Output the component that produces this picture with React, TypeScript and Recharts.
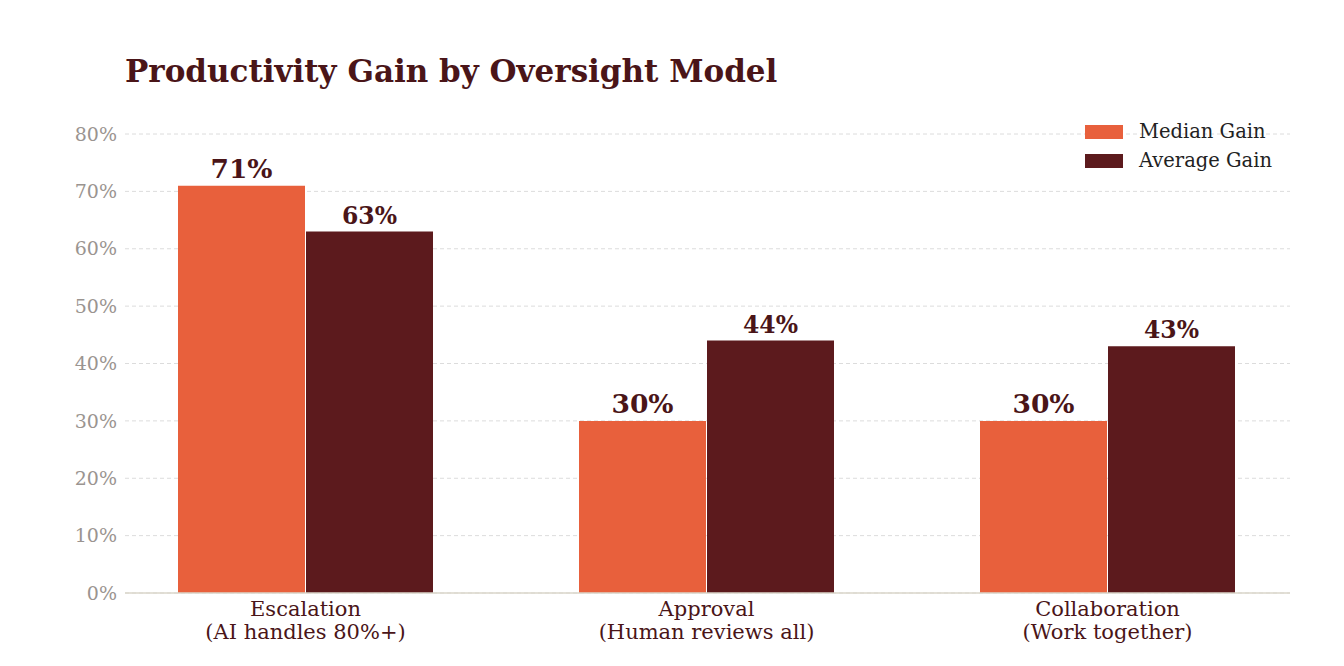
import * as React from 'react'
import { Bar, BarChart, CartesianGrid, LabelList, XAxis, YAxis } from 'recharts'

const categories = ['Escalation', 'Approval', 'Collaboration']
const subtitles = ['(AI handles 80%+)', '(Human reviews all)', '(Work together)']
const medianGain = [71, 30, 30]
const averageGain = [63, 44, 43]
const yTicks = [0, 10, 20, 30, 40, 50, 60, 70, 80]

const FONT = '"DejaVu Serif", serif'
const MEDIAN = '#E8603C'
const AVERAGE = '#5C1A1D'
const INK = '#4A1518'

const data = categories.map((c, i) => ({
  name: c,
  sub: subtitles[i],
  median: medianGain[i],
  average: averageGain[i],
}))

function CategoryTick({ x, y, payload, index }: any) {
  return (
    <g transform={`translate(${x},${y})`}>
      <text textAnchor="middle" fontFamily={FONT} fontSize={21} fill={INK}>
        <tspan x={0} dy={15}>{payload.value}</tspan>
        <tspan x={0} dy={23}>{data[index]?.sub}</tspan>
      </text>
    </g>
  )
}

function LegendBox() {
  const items = [
    { label: 'Median Gain', color: MEDIAN },
    { label: 'Average Gain', color: AVERAGE },
  ]
  return (
    <div style={{ position: 'absolute', left: 1085, top: 117, fontFamily: FONT, fontSize: 19.5, color: '#222' }}>
      {items.map((it) => (
        <div key={it.label} style={{ display: 'flex', alignItems: 'center', height: 29 }}>
          <span style={{ width: 38, height: 14, background: it.color, marginRight: 16 }} />
          <span style={{ whiteSpace: 'nowrap' }}>{it.label}</span>
        </div>
      ))}
    </div>
  )
}

export default function App() {
  return (
    <div style={{ position: 'fixed', left: 0, top: 0, width: 1344, height: 666, background: '#fff' }}>
      <div
        style={{
          position: 'absolute',
          left: 125,
          top: 53,
          fontFamily: FONT,
          fontWeight: 'bold',
          fontSize: 31,
          color: INK,
          whiteSpace: 'nowrap',
        }}
      >
        Productivity Gain by Oversight Model
      </div>
      <BarChart
        width={1344}
        height={666}
        data={data}
        margin={{ top: 134, right: 54, bottom: 0, left: 0 }}
        barGap={1}
        barSize={127}
      >
        <CartesianGrid stroke="#dcdcdc" strokeDasharray="4 3" vertical={false} />
        <XAxis
          dataKey="name"
          padding={{ left: -20, right: -18 }}
          tick={<CategoryTick />}
          tickLine={false}
          axisLine={{ stroke: '#dad6ca', strokeWidth: 1.5 }}
          height={73}
          interval={0}
        />
        <YAxis
          width={125}
          domain={[0, 80]}
          ticks={yTicks}
          tickFormatter={(v) => `${v}%`}
          tick={{ fontFamily: FONT, fontSize: 19, fill: '#9a9490' }}
          tickLine={false}
          axisLine={false}
        />
        <Bar dataKey="median" name="Median Gain" fill={MEDIAN} isAnimationActive={false}>
          <LabelList
            dataKey="median"
            position="top"
            offset={8}
            formatter={(v: any) => `${v}%`}
            style={{ fontFamily: FONT, fontSize: 26.5, fontWeight: 'bold', fill: INK }}
          />
        </Bar>
        <Bar dataKey="average" name="Average Gain" fill={AVERAGE} isAnimationActive={false}>
          <LabelList
            dataKey="average"
            position="top"
            offset={8}
            formatter={(v: any) => `${v}%`}
            style={{ fontFamily: FONT, fontSize: 23.5, fontWeight: 'bold', fill: INK }}
          />
        </Bar>
      </BarChart>
      <LegendBox />
    </div>
  )
}
